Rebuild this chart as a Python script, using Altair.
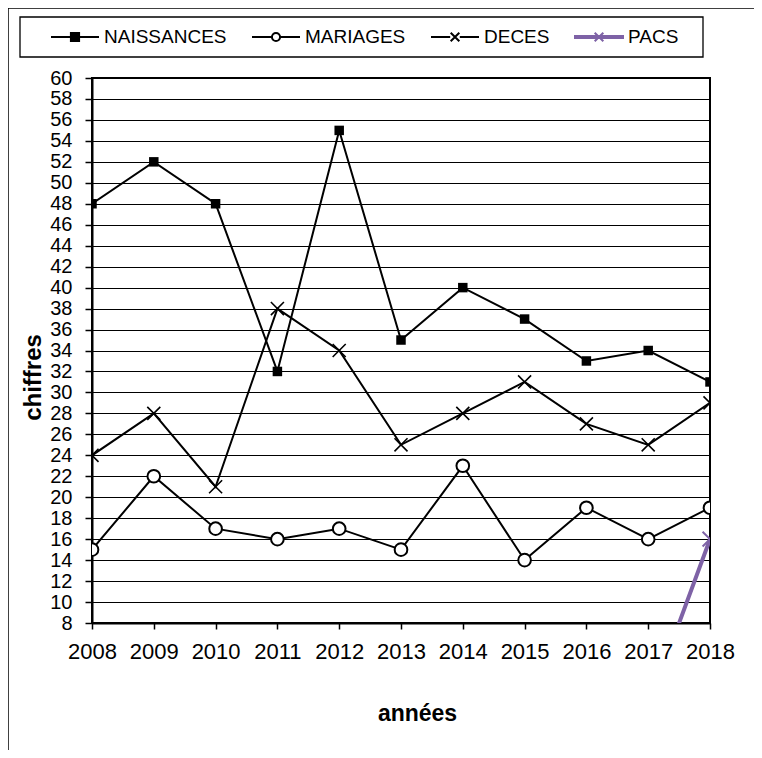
import altair as alt
import pandas as pd

YEARS = [2008, 2009, 2010, 2011, 2012, 2013, 2014, 2015, 2016, 2017, 2018]
NAISSANCES = [48, 52, 48, 32, 55, 35, 40, 37, 33, 34, 31]
MARIAGES = [15, 22, 17, 16, 17, 15, 23, 14, 19, 16, 19]
DECES = [24, 28, 21, 38, 34, 25, 28, 31, 27, 25, 29]
PACS = [0, 0, 0, 0, 0, 0, 0, 0, 0, 0, 16]
SERIES = ["NAISSANCES", "MARIAGES", "DECES", "PACS"]
Y_TICKS = [8, 10, 12, 14, 16, 18, 20, 22, 24, 26, 28, 30, 32, 34, 36, 38, 40,
           42, 44, 46, 48, 50, 52, 54, 56, 58, 60]

PURPLE = "#7E62A6"
FONT = "Liberation Sans"

values = {"NAISSANCES": NAISSANCES, "MARIAGES": MARIAGES, "DECES": DECES, "PACS": PACS}
rows = []
for s in SERIES:
    for yr, v in zip(YEARS, values[s]):
        rows.append({"serie": s, "annee": yr, "valeur": v})
df = pd.DataFrame(rows)

x_enc = alt.X(
    "annee:Q",
    scale=alt.Scale(domain=[2008, 2018], nice=False, zero=False),
    axis=alt.Axis(
        values=YEARS, format="d", title="années", grid=False,
        labelFont=FONT, labelFontSize=22, labelColor="black", labelPadding=12,
        tickSize=6, tickColor="black", tickWidth=1.5,
        domainColor="black", domainWidth=2,
        titleFont=FONT, titleFontSize=23, titleFontWeight="bold", titleColor="black",
        titleX=325, titleY=90, titleBaseline="middle", titleAlign="center",
        labelFlush=False,
    ),
)
y_enc = alt.Y(
    "valeur:Q",
    scale=alt.Scale(domain=[8, 60], nice=False, zero=False),
    axis=alt.Axis(
        values=Y_TICKS, title="chiffres", grid=True, gridColor="black",
        gridWidth=1.2, gridOpacity=1, labelOverlap=False,
        labelFont=FONT, labelFontSize=20, labelColor="black", labelPadding=13,
        tickSize=7, tickColor="black", tickWidth=1.5,
        domainColor="black", domainWidth=2, labelFlush=False,
        titleFont=FONT, titleFontSize=24, titleFontWeight="bold", titleColor="black",
        titleX=-59, titleY=299, titleAngle=270, titleBaseline="middle", titleAlign="center",
    ),
)

base = alt.Chart(df)
styles = {
    "NAISSANCES": dict(color="black", width=2),
    "MARIAGES": dict(color="black", width=2),
    "DECES": dict(color="black", width=2),
    "PACS": dict(color=PURPLE, width=4),
}
XPATH = "M-1,-1L1,1M-1,1L1,-1"

layers = []
for s in SERIES:
    st = styles[s]
    layers.append(
        base.transform_filter(alt.datum.serie == s)
        .mark_line(color=st["color"], strokeWidth=st["width"], clip=True)
        .encode(x=x_enc, y=y_enc)
    )

layers.append(
    base.transform_filter(alt.datum.serie == "NAISSANCES")
    .mark_point(shape="square", filled=True, color="black", size=90, opacity=1, clip=True)
    .encode(x=x_enc, y=y_enc)
)
layers.append(
    base.transform_filter(alt.datum.serie == "MARIAGES")
    .mark_point(shape="circle", fill="white", stroke="black", strokeWidth=2, size=160,
                opacity=1, fillOpacity=1, clip=True)
    .encode(x=x_enc, y=y_enc)
)
layers.append(
    base.transform_filter(alt.datum.serie == "DECES")
    .mark_point(shape=XPATH, stroke="black", strokeWidth=1.6, size=170, opacity=1, clip=True)
    .encode(x=x_enc, y=y_enc)
)
layers.append(
    base.transform_filter((alt.datum.serie == "PACS") & (alt.datum.valeur > 0))
    .mark_point(shape=XPATH, stroke=PURPLE, strokeWidth=2, size=220, opacity=1, clip=True)
    .encode(x=x_enc, y=y_enc)
)

# legend-only layer (points fall outside the y domain and are clipped)
leg_df = pd.DataFrame({"serie": SERIES, "annee": [2013] * 4, "valeur": [-100] * 4})
r = 0.17
LEG_PATHS = [
    f"M-1,0H1M-{r},-{r}H{r}V{r}H-{r}Z",
    f"M-1,0H-{r}M{r},0H1M{r},0A{r},{r} 0 1,1 -{r},0A{r},{r} 0 1,1 {r},0Z",
    "M-1,0H-0.2M0.2,0H1M-0.18,-0.18L0.18,0.18M-0.18,0.18L0.18,-0.18",
    "M-1,-0.04H1V0.04H-1ZM-0.18,-0.18L0.18,0.18M-0.18,0.18L0.18,-0.18",
]
leg = alt.Legend(
    title=None, orient="none", legendX=-42, legendY=-66, direction="horizontal",
    labelFont=FONT, labelFontSize=19, labelColor="black", labelOffset=4,
    columnPadding=21, padding=0, symbolSize=2304, symbolStrokeWidth=2,
)
layers.append(
    alt.Chart(leg_df)
    .mark_point(size=2304, opacity=1, strokeWidth=2, clip=True)
    .encode(
        x=x_enc, y=y_enc,
        shape=alt.Shape("serie:N", scale=alt.Scale(domain=SERIES, range=LEG_PATHS), legend=leg),
        fill=alt.Fill("serie:N", scale=alt.Scale(domain=SERIES, range=["black", "white", "white", PURPLE]), legend=leg),
        stroke=alt.Stroke("serie:N", scale=alt.Scale(domain=SERIES, range=["black", "black", "black", PURPLE]), legend=leg),
    )
)

# decorative frames: legend box and outer chart border (top and left edges)
box_df = pd.DataFrame({"k": [0]})
layers.append(
    alt.Chart(box_df).mark_rect(fill="white", fillOpacity=0, stroke="black", strokeWidth=1.3)
    .encode(x=alt.value(-72), x2=alt.value(611), y=alt.value(-61), y2=alt.value(-21))
)
layers.append(
    alt.Chart(box_df).mark_rule(color="black", strokeWidth=1.5)
    .encode(x=alt.value(-84), x2=alt.value(700), y=alt.value(-70))
)
layers.append(
    alt.Chart(box_df).mark_rule(color="black", strokeWidth=1.5)
    .encode(x=alt.value(-84), y=alt.value(-70), y2=alt.value(700))
)

chart = (
    alt.layer(*layers)
    .properties(
        width=618, height=545,
        padding={"left": 84, "top": 70, "right": 44, "bottom": 127},
        autosize=alt.AutoSizeParams(type="none"),
        background="white",
    )
    .configure_view(stroke="black", strokeWidth=2)
)

chart.save("out.html", embed_options={"renderer": "svg", "actions": False})
